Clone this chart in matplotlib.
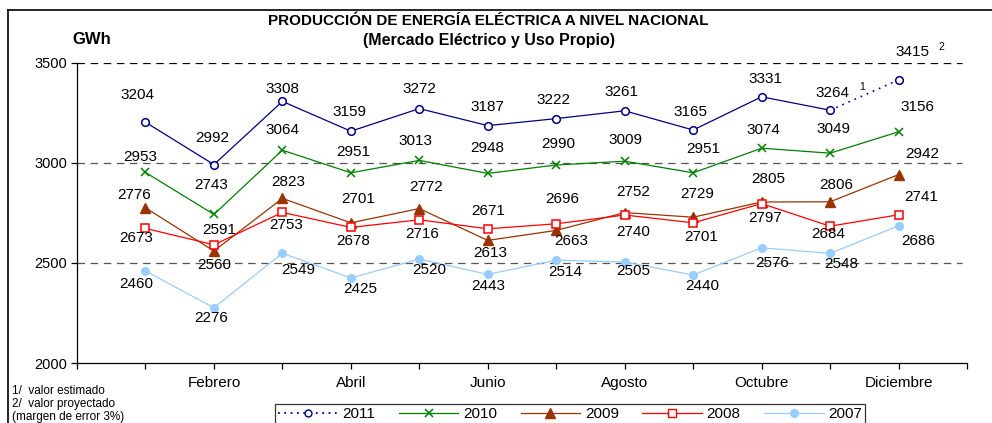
import matplotlib
matplotlib.use("Agg")
import matplotlib.pyplot as plt
from matplotlib.lines import Line2D

plt.rcParams['font.family'] = ['Liberation Sans', 'DejaVu Sans']

# ---------------- data ----------------
months = ['Enero', 'Febrero', 'Marzo', 'Abril', 'Mayo', 'Junio', 'Julio',
          'Agosto', 'Septiembre', 'Octubre', 'Noviembre', 'Diciembre']
y2011 = [3204, 2992, 3308, 3159, 3272, 3187, 3222, 3261, 3165, 3331, 3264, 3415]
y2010 = [2953, 2743, 3064, 2951, 3013, 2948, 2990, 3009, 2951, 3074, 3049, 3156]
y2009 = [2776, 2560, 2823, 2701, 2772, 2613, 2663, 2752, 2729, 2805, 2806, 2942]
y2008 = [2673, 2591, 2753, 2678, 2716, 2671, 2696, 2740, 2701, 2797, 2684, 2741]
y2007 = [2460, 2276, 2549, 2425, 2520, 2443, 2514, 2505, 2440, 2576, 2548, 2686]
series_names = ['2011', '2010', '2009', '2008', '2007']
title = 'PRODUCCIÓN DE ENERGÍA ELÉCTRICA A NIVEL NACIONAL'
subtitle = '(Mercado Eléctrico y Uso Propio)'
unit = 'GWh'
notes = ['1/  valor estimado', '2/  valor proyectado', '(margen de error 3%)']
yticks = [2000, 2500, 3000, 3500]

# ---------------- label offsets (pixels) ----------------
off2011 = [(-8, 27), (-2, 27), (0, 12), (-1, 19), (0, 20), (0, 19), (-3, 19),
           (-3, 19), (-3, 18), (4, 18), (2, 17), (14, 28)]
off2010 = [(-5, 15), (-3, 29), (0, 20), (2, 21), (-4, 19), (-1, 25), (2, 21),
           (1, 21), (10, 24), (2, 18), (3, 24), (19, 25)]
off2009 = [(-11, 13), (0, -14), (6, 16), (7, 24), (7, 22), (2, -13), (15, -11),
           (8, 21), (4, 23), (7, 23), (6, 17), (24, 21)]
off2008 = [(-9, -10), (5, 15), (4, -13), (2, -14), (3, -14), (0, 18), (6, 25),
           (8, -17), (8, -14), (4, -14), (-2, -8), (23, 18)]
off2007 = [(-9, -13), (-3, -10), (16, -17), (9, -11), (10, -11), (0, -12), (9, -12),
           (9, -9), (9, -11), (11, -15), (11, -11), (20, -15)]

W, H = 992, 423
fig = plt.figure(figsize=(W / 100, H / 100), dpi=100)
ax = fig.add_axes([77 / W, 1 - 363 / H, 890 / W, 300 / H])

x = list(range(1, 13))

c2011 = '#000080'
c2010 = '#008000'
c2009 = '#993300'
c2008 = '#ff0000'
c2007 = '#99ccff'
lw = 0.9

# grid lines
for v in yticks[1:]:
    ax.axhline(v, xmin=0, xmax=0.994, color='black' if v == 3500 else '#555555',
               lw=0.9, dashes=(6, 4.5), zorder=1)

# 2007
ax.plot(x, y2007, color=c2007, lw=lw, marker='o', ms=5.5, mfc=c2007, mec=c2007, zorder=3)
# 2008
ax.plot(x, y2008, color=c2008, lw=lw, marker='s', ms=5.5, mfc='white', mec=c2008, mew=1.1, zorder=4)
# 2009
ax.plot(x, y2009, color=c2009, lw=lw, marker='^', ms=6.5, mfc=c2009, mec=c2009, zorder=3)
# 2010
ax.plot(x, y2010, color=c2010, lw=lw, marker='x', ms=6, mew=1.1, zorder=3)
# 2011: solid Jan-Nov, dotted Nov-Dec
ax.plot(x[:11], y2011[:11], color=c2011, lw=lw, zorder=3)
ax.plot(x[10:], y2011[10:], color=c2011, lw=1.2, ls=(0, (1, 3)), zorder=3)
ax.plot(x, y2011, ls='none', marker='o', ms=5.5, mfc='white', mec=c2011, mew=1.1, zorder=5)

for ys, offs in [(y2011, off2011), (y2010, off2010), (y2009, off2009),
                 (y2008, off2008), (y2007, off2007)]:
    for xi, yi, (dx, dy) in zip(x, ys, offs):
        ax.annotate(str(yi), (xi, yi), xytext=(dx, dy), textcoords='offset pixels',
                    ha='center', va='center', fontsize=11, color='black', zorder=6)

# superscripts
ax.annotate('1', (x[10], y2011[10]), xytext=(32, 23), textcoords='offset pixels',
            ha='center', va='center', fontsize=7.5)
ax.annotate('2', (x[11], y2011[11]), xytext=(43, 33), textcoords='offset pixels',
            ha='center', va='center', fontsize=7.5)

ax.set_xlim(0, 13)
ax.set_ylim(2000, 3500)
ax.set_xticks(range(0, 14))
ax.set_xticklabels([''] + [m if i % 2 == 1 else '' for i, m in enumerate(months)] + [''])
ax.set_yticks(yticks)
ax.set_yticklabels([str(v) for v in yticks])
ax.tick_params(axis='both', direction='out', length=4, width=0.9, labelsize=10.5, colors='black')
ax.tick_params(axis='x', pad=5, labelsize=11)
ax.tick_params(axis='y', pad=3)
for s in ['top', 'right']:
    ax.spines[s].set_visible(False)
for s in ['left', 'bottom']:
    ax.spines[s].set_linewidth(0.9)

# titles
fig.text(488 / W, 1 - 21 / H, title, ha='center', va='center', fontsize=11, fontweight='bold')
fig.text(489 / W, 1 - 40 / H, subtitle, ha='center', va='center', fontsize=11.5, fontweight='bold')
fig.text(72 / W, 1 - 40 / H, unit, ha='left', va='center', fontsize=12, fontweight='bold')

# notes
for i, n in enumerate(notes):
    fig.text(12 / W, 1 - (391 + 13 * i) / H, n, ha='left', va='center', fontsize=8.5)

# outer frame (top and left)
fig.add_artist(Line2D([8 / W, 8 / W], [0, 1 - 10 / H], color='black', lw=1.2, transform=fig.transFigure))
fig.add_artist(Line2D([8 / W, 1], [1 - 10 / H, 1 - 10 / H], color='black', lw=1.2, transform=fig.transFigure))

# legend
handles = [
    Line2D([], [], color=c2011, lw=1.3, ls=(0, (1, 2.5)), marker='o', ms=5, mfc='white', mec=c2011),
    Line2D([], [], color=c2010, lw=lw, marker='x', ms=6, mew=1.1),
    Line2D([], [], color=c2009, lw=lw, marker='^', ms=6.5, mfc=c2009, mec=c2009),
    Line2D([], [], color=c2008, lw=lw, marker='s', ms=5.5, mfc='white', mec=c2008),
    Line2D([], [], color=c2007, lw=lw, marker='o', ms=5.5, mfc=c2007, mec=c2007),
]
leg = fig.legend(handles, series_names, loc='upper left', bbox_to_anchor=(275 / W, 1 - 404 / H),
                 ncol=5, frameon=True, fontsize=11, handlelength=3.9, handletextpad=0.3,
                 columnspacing=1.55, borderpad=0.2, borderaxespad=0, fancybox=False)
leg.get_frame().set_edgecolor('black')
leg.get_frame().set_linewidth(0.9)

fig.savefig('out.png', dpi=100)
